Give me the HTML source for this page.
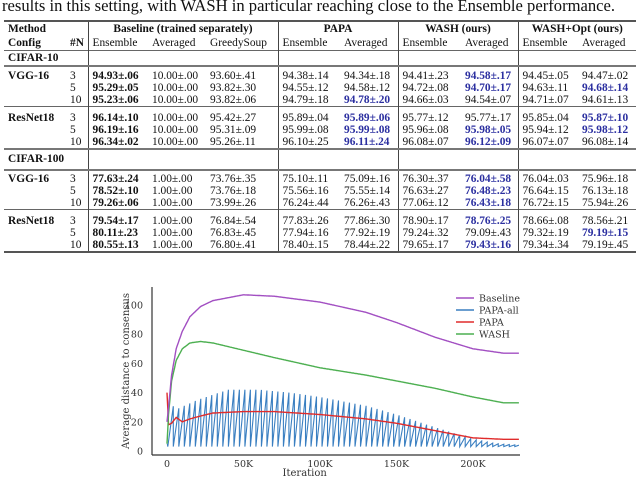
<!DOCTYPE html>
<html><head><meta charset="utf-8"><style>
body{margin:0;width:640px;height:478px;background:#fff;overflow:hidden;position:relative;font-family:"Liberation Serif",serif;color:#111}
#cap{position:absolute;left:2px;top:-4px;font-size:16.6px;white-space:nowrap}
table{position:absolute;left:4px;top:20px;border-collapse:collapse;font-size:11.4px;table-layout:fixed;width:632px}
td{padding:0 0 0 4px;height:12px;line-height:12px;white-space:nowrap}
.h td{height:14px;line-height:14px}
.vl{border-left:1px solid #444}
.top{border-top:2px solid #555}
.r td{border-top:1px solid #666}
.rr td{border-top:2.5px double #777}
.bot td{border-bottom:2px solid #555}
b{font-weight:bold}
.bl{color:#2b2fa0;font-weight:bold}
.c{text-align:center;padding:0}
.pad td{height:5px;line-height:5px}
.pad3 td{height:3px;line-height:3px}
.pad2 td{height:2px;line-height:2px}
.h2 td{height:19px;line-height:19px}
svg{position:absolute;left:0;top:0}
</style></head><body>
<div id="cap">results in this setting, with WASH in particular reaching close to the Ensemble performance.</div>
<table>
<colgroup><col style="width:62px"><col style="width:22px"><col style="width:60px"><col style="width:58px"><col style="width:72px"><col style="width:62px"><col style="width:58px"><col style="width:63px"><col style="width:57px"><col style="width:60px"><col style="width:58px"></colgroup>
<tr class="h top"><td class="top"><b>Method</b></td><td class="top"></td><td class="c vl top" colspan="3"><b>Baseline (trained separately)</b></td><td class="c vl top" colspan="2"><b>PAPA</b></td><td class="c vl top" colspan="2"><b>WASH (ours)</b></td><td class="c vl top" colspan="2"><b>WASH+Opt (ours)</b></td></tr>
<tr class="h"><td><b>Config</b></td><td><b>#N</b></td><td class="vl">Ensemble</td><td>Averaged</td><td>GreedySoup</td><td class="vl">Ensemble</td><td>Averaged</td><td class="vl">Ensemble</td><td>Averaged</td><td class="vl">Ensemble</td><td>Averaged</td></tr>
<tr class="h r"><td><b>CIFAR-10</b></td><td></td><td class="vl"></td><td></td><td></td><td class="vl"></td><td></td><td class="vl"></td><td></td><td class="vl"></td><td></td></tr>
<tr class="pad3 rr"><td></td><td></td><td class="vl"></td><td></td><td></td><td class="vl"></td><td></td><td class="vl"></td><td></td><td class="vl"></td><td></td></tr>
<tr><td><b>VGG-16</b></td><td>3</td><td class="vl"><b>94.93±.06</b></td><td>10.00±.00</td><td>93.60±.41</td><td class="vl">94.38±.14</td><td>94.34±.18</td><td class="vl">94.41±.23</td><td class="bl">94.58±.17</td><td class="vl">94.45±.05</td><td>94.47±.02</td></tr>
<tr><td></td><td>5</td><td class="vl"><b>95.29±.05</b></td><td>10.00±.00</td><td>93.82±.30</td><td class="vl">94.55±.12</td><td>94.58±.12</td><td class="vl">94.72±.08</td><td class="bl">94.70±.17</td><td class="vl">94.63±.11</td><td class="bl">94.68±.14</td></tr>
<tr><td></td><td>10</td><td class="vl"><b>95.23±.06</b></td><td>10.00±.00</td><td>93.82±.06</td><td class="vl">94.79±.18</td><td class="bl">94.78±.20</td><td class="vl">94.66±.03</td><td>94.54±.07</td><td class="vl">94.71±.07</td><td>94.61±.13</td></tr>
<tr class="pad r"><td></td><td></td><td class="vl"></td><td></td><td></td><td class="vl"></td><td></td><td class="vl"></td><td></td><td class="vl"></td><td></td></tr>
<tr><td><b>ResNet18</b></td><td>3</td><td class="vl"><b>96.14±.10</b></td><td>10.00±.00</td><td>95.42±.27</td><td class="vl">95.89±.04</td><td class="bl">95.89±.06</td><td class="vl">95.77±.12</td><td>95.77±.17</td><td class="vl">95.85±.04</td><td class="bl">95.87±.10</td></tr>
<tr><td></td><td>5</td><td class="vl"><b>96.19±.16</b></td><td>10.00±.00</td><td>95.31±.09</td><td class="vl">95.99±.08</td><td class="bl">95.99±.08</td><td class="vl">95.96±.08</td><td class="bl">95.98±.05</td><td class="vl">95.94±.12</td><td class="bl">95.98±.12</td></tr>
<tr><td></td><td>10</td><td class="vl"><b>96.34±.02</b></td><td>10.00±.00</td><td>95.26±.11</td><td class="vl">96.10±.25</td><td class="bl">96.11±.24</td><td class="vl">96.08±.07</td><td class="bl">96.12±.09</td><td class="vl">96.07±.07</td><td>96.08±.14</td></tr>
<tr class="h2 rr"><td><b>CIFAR-100</b></td><td></td><td class="vl"></td><td></td><td></td><td class="vl"></td><td></td><td class="vl"></td><td></td><td class="vl"></td><td></td></tr>
<tr class="pad2 rr"><td></td><td></td><td class="vl"></td><td></td><td></td><td class="vl"></td><td></td><td class="vl"></td><td></td><td class="vl"></td><td></td></tr>
<tr><td><b>VGG-16</b></td><td>3</td><td class="vl"><b>77.63±.24</b></td><td>1.00±.00</td><td>73.76±.35</td><td class="vl">75.10±.11</td><td>75.09±.16</td><td class="vl">76.30±.37</td><td class="bl">76.04±.58</td><td class="vl">76.04±.03</td><td>75.96±.18</td></tr>
<tr><td></td><td>5</td><td class="vl"><b>78.52±.10</b></td><td>1.00±.00</td><td>73.76±.18</td><td class="vl">75.56±.16</td><td>75.55±.14</td><td class="vl">76.63±.27</td><td class="bl">76.48±.23</td><td class="vl">76.64±.15</td><td>76.13±.18</td></tr>
<tr><td></td><td>10</td><td class="vl"><b>79.26±.06</b></td><td>1.00±.00</td><td>73.99±.26</td><td class="vl">76.24±.44</td><td>76.26±.43</td><td class="vl">77.06±.12</td><td class="bl">76.43±.18</td><td class="vl">76.72±.15</td><td>75.94±.26</td></tr>
<tr class="pad r"><td></td><td></td><td class="vl"></td><td></td><td></td><td class="vl"></td><td></td><td class="vl"></td><td></td><td class="vl"></td><td></td></tr>
<tr><td><b>ResNet18</b></td><td>3</td><td class="vl"><b>79.54±.17</b></td><td>1.00±.00</td><td>76.84±.54</td><td class="vl">77.83±.26</td><td>77.86±.30</td><td class="vl">78.90±.17</td><td class="bl">78.76±.25</td><td class="vl">78.66±.08</td><td>78.56±.21</td></tr>
<tr><td></td><td>5</td><td class="vl"><b>80.11±.23</b></td><td>1.00±.00</td><td>76.83±.45</td><td class="vl">77.94±.16</td><td>77.92±.19</td><td class="vl">79.24±.32</td><td>79.09±.43</td><td class="vl">79.32±.19</td><td class="bl">79.19±.15</td></tr>
<tr class="bot"><td></td><td>10</td><td class="vl"><b>80.55±.13</b></td><td>1.00±.00</td><td>76.80±.41</td><td class="vl">78.40±.15</td><td>78.44±.22</td><td class="vl">79.65±.17</td><td class="bl">79.43±.16</td><td class="vl">79.34±.34</td><td>79.19±.45</td></tr>
</table>
<svg id="chart" width="640" height="478"></svg>
<script>
const iters=[0,1,3,6,10,15,22,30,50,70,100,130,150,175,200,220,230];
const baseline=[20,30,52,70,82,92,99,103,107,106,102,95,88,78,70,67,67];
const wash=[5,25,48,62,70,74,75,74,69,64,57,52,48,43,37,33,33];
const papa=[40,18,19,23,20,22,24,26,27,27,25,22,19,14,9,8,8];
const papaAllPeakIters=[1,5,20,40,60,80,100,130,150,170,185,200,215,230];
const papaAllPeaks=[40,28,35,42,42,40,37,31,25,18,13,8,5,4];
const papaAllPeriod=3.6;
const papaAllFloor=3;
const xTicks=[0,50,100,150,200];
const xTickLabels=['0','50K','100K','150K','200K'];
const yTicks=[0,20,40,60,80,100];
const NS='http://www.w3.org/2000/svg';
const svg=document.getElementById('chart');
const X=k=>167+k*1.53, Y=v=>451-v*1.46;
function el(t,a){const e=document.createElementNS(NS,t);for(const k in a)e.setAttribute(k,a[k]);svg.appendChild(e);return e;}
function interp(xs,ys,x){if(x<=xs[0])return ys[0];for(let i=1;i<xs.length;i++){if(x<=xs[i]){const t=(x-xs[i-1])/(xs[i]-xs[i-1]);return ys[i-1]+t*(ys[i]-ys[i-1]);}}return ys[ys.length-1];}
let a=el('line',{x1:152,y1:287,x2:152,y2:455,stroke:'#333','stroke-width':1.2});

a=el('line',{x1:152,y1:455,x2:520,y2:455,stroke:'#333','stroke-width':1.2});

xTicks.forEach((v,i)=>{const t=el('text',{x:X(v),y:467,'text-anchor':'middle','font-size':9.5,'font-family':'DejaVu Serif, serif',fill:'#333'});t.textContent=xTickLabels[i];
});
yTicks.forEach(v=>{const t=el('text',{x:143,y:Y(v)+3.5,'text-anchor':'end','font-size':9.5,'font-family':'DejaVu Serif, serif',fill:'#333'});t.textContent=v;
});
let t=el('text',{x:X(90),y:476,'text-anchor':'middle','font-size':10,'font-family':'DejaVu Serif, serif',fill:'#333'});t.textContent='Iteration';

t=el('text',{x:0,y:0,transform:'translate(129,371) rotate(-90)','text-anchor':'middle','font-size':10,'font-family':'DejaVu Serif, serif',fill:'#333'});t.textContent='Average distance to consensus';

let d='';let k0=0.5;d+='M'+X(0.2)+','+Y(5);
for(let s=k0;s<230;s+=papaAllPeriod){const e=Math.min(s+papaAllPeriod,230);const pk=interp(papaAllPeakIters,papaAllPeaks,e);
d+=' L'+X(s).toFixed(1)+','+Y(papaAllFloor).toFixed(1)+' L'+X(e).toFixed(1)+','+Y(pk).toFixed(1);}
let p=el('path',{d:d,fill:'none',stroke:'#3a7fc1','stroke-width':1.1});

function smooth(ys,color,name){let dd='';for(let k=0;k<=230;k+=0.5){const v=interp(iters,ys,k);dd+=(k?' L':'M')+X(k).toFixed(1)+','+Y(v).toFixed(1);}
const q=el('path',{d:dd,fill:'none',stroke:color,'stroke-width':1.4});
}
smooth(papa,'#e02b2b','papa-line');
smooth(wash,'#4caf50','wash-line');
smooth(baseline,'#a24fc2','baseline-line');
const legNames=['Baseline','PAPA-all','PAPA','WASH'];
const legColors=['#a24fc2','#3a7fc1','#e02b2b','#4caf50'];
legNames.forEach((n,i)=>{const y=298+i*12;
const l=el('line',{x1:456,y1:y,x2:474,y2:y,stroke:legColors[i],'stroke-width':1.6});

const tx=el('text',{x:479,y:y+3.5,'font-size':9.5,'font-family':'DejaVu Serif, serif',fill:'#333'});tx.textContent=n;
});
</script>
</body></html>
